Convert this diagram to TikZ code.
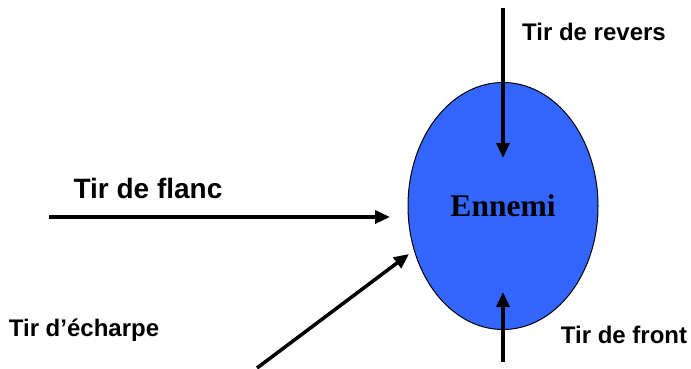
\documentclass[tikz,border=0pt]{standalone}
\usepackage{fontspec}
\setmainfont{Liberation Sans}
\newfontfamily\serifbold{Liberation Serif}
\usetikzlibrary{shapes.geometric,arrows.meta}
\definecolor{enemyblue}{HTML}{3366FF}
\tikzset{
 tir/.style={line width=3.5pt,-{Triangle[length=15pt,width=13pt]}},
 label/.style={font=\fontsize{24}{26}\selectfont\bfseries,inner sep=0pt}
}
\begin{document}
\begin{tikzpicture}[x=1pt,y=-1pt]
%\draw[help lines] (0,0) grid[step=50] (691,369);
\useasboundingbox (0,0) rectangle (691,369);

 \node[ellipse,draw,line width=1pt,fill=enemyblue,minimum width=190pt,minimum height=247pt,inner sep=0pt,
  font=\serifbold\fontsize{31.5}{33}\selectfont\bfseries] (ennemi) at (503,206) {Ennemi};

 \coordinate (revers0) at (503,8);
 \coordinate (revers1) at (503,158);
 \coordinate (front0) at (503,362);
 \coordinate (front1) at (503,292);
 \coordinate (flanc0) at (49,217);
 \coordinate (flanc1) at (390,217);
 \coordinate (echarpe0) at (257,368);
 \coordinate (echarpe1) at (409,254);

 \draw[tir] (revers0) -- (revers1);
 \draw[tir] (front0) -- (front1);
 \draw[tir] (flanc0) -- (flanc1);
 \draw[tir] (echarpe0) -- (echarpe1);

 \node[label] (revers) at (594,32) {Tir de revers};
 \node[label] (front) at (624,335) {Tir de front};
 \node[label,font=\fontsize{28}{30}\selectfont\bfseries] (flanc) at (148,188) {Tir de flanc};
 \node[label] (echarpe) at (84,330) {Tir d’écharpe};

\end{tikzpicture}
\end{document}
